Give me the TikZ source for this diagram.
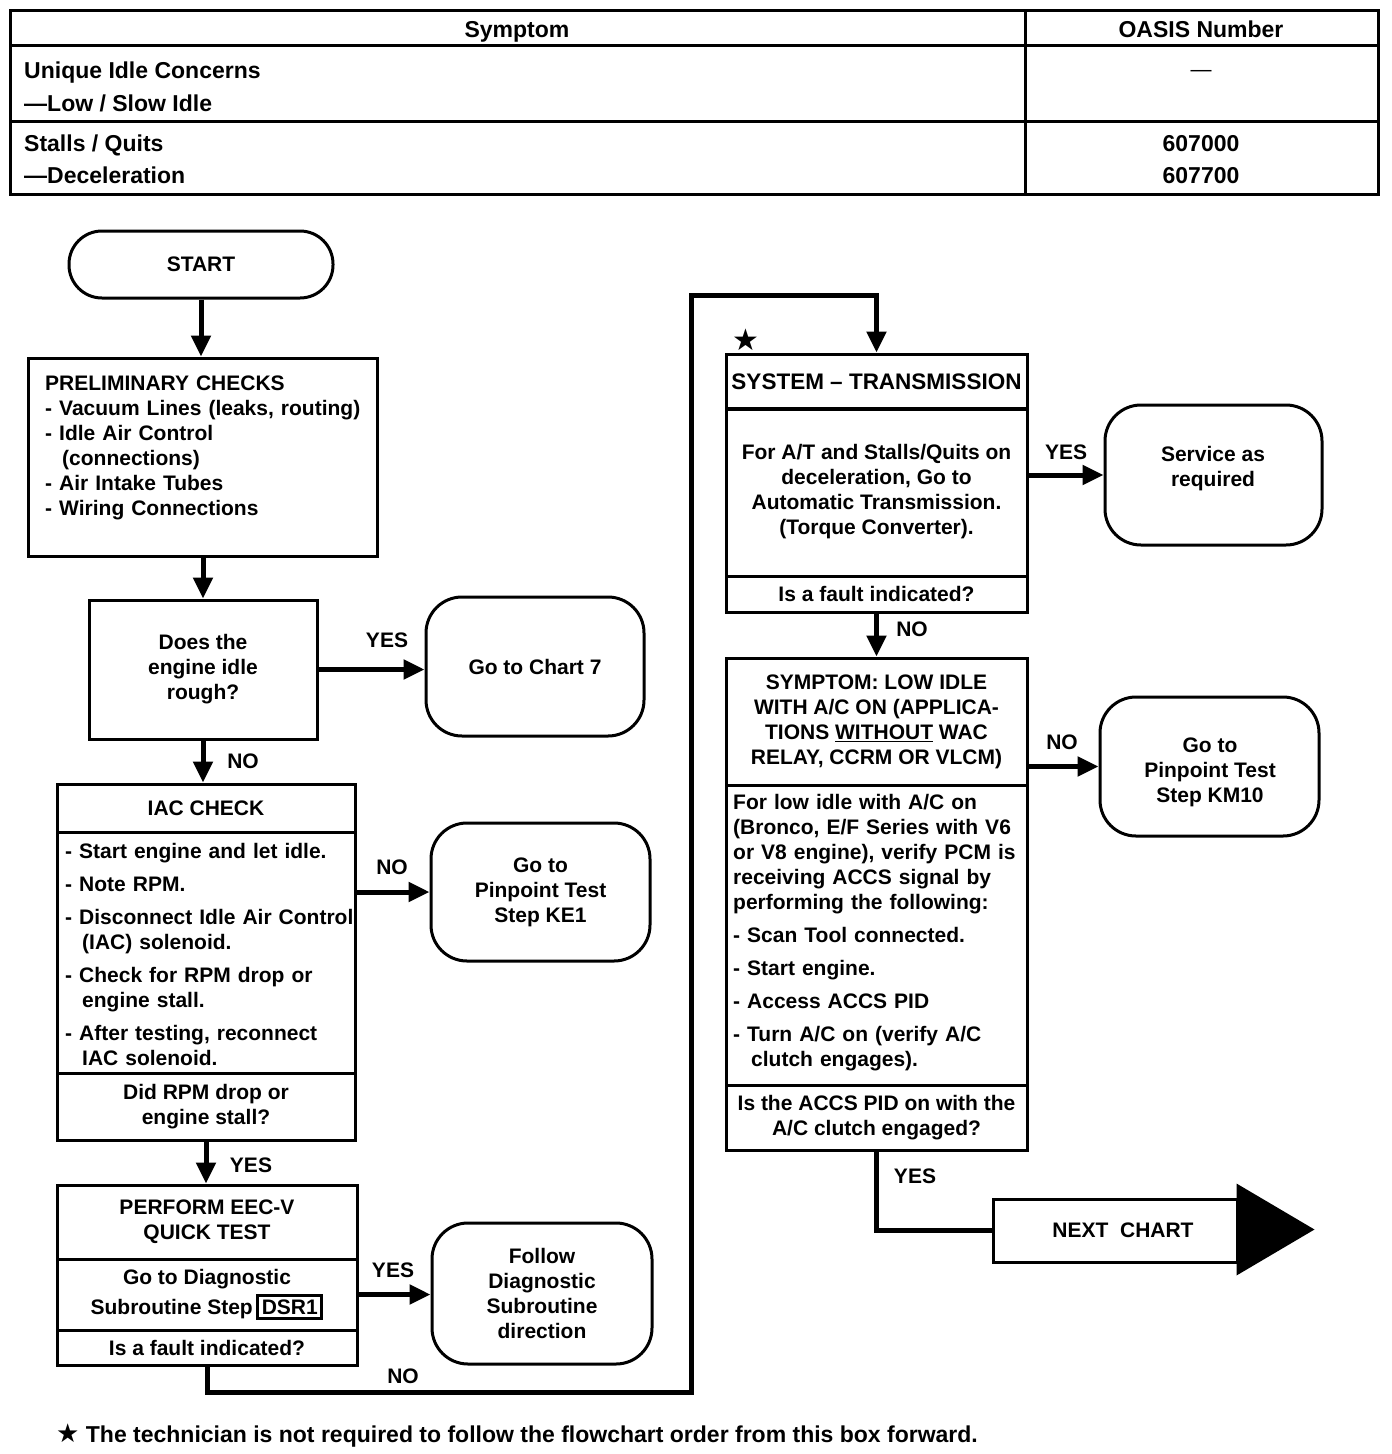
\documentclass[tikz,border=0pt]{standalone}
\usepackage{fontspec}
\setmainfont{Liberation Sans}
\newfontfamily\symfont{DejaVu Sans}
\usetikzlibrary{arrows.meta,calc}
\newcommand\fzn{\fontsize{21}{25}\selectfont\bfseries}
\newcommand\fzt{\fontsize{23}{33}\selectfont\bfseries}
\newcommand\dsr[1]{{\setlength\fboxsep{2.5pt}\setlength\fboxrule{3pt}\fbox{#1}}}
\begin{document}
\begin{tikzpicture}[x=1pt,y=-1pt,
  box/.style={draw,line width=3pt,inner sep=0pt,align=center,font=\fzn},
  rbox/.style={box,rounded corners=36pt},
  conn/.style={line width=5pt,-{Triangle[length=21pt,width=19pt]}},
  lbl/.style={inner sep=0pt,font=\fzn},
  lst/.style={inner sep=0pt,anchor=north west,align=left,text width=330pt,font=\fzn},
  tt/.style={inner sep=0pt,font=\fzt}]
\useasboundingbox[fill=white] (0,0) rectangle (1392,1454);
% ---- table ----
\draw[line width=3pt] (10,10) rectangle (1378,194);
\draw[line width=3pt] (10,45) -- (1378,45) (10,121) -- (1378,121) (1025,10) -- (1025,194);
\node[tt,anchor=base] (hsym) at (517,37) {Symptom};
\node[tt,anchor=base] (hoasis) at (1201,37) {OASIS Number};
\node[tt,anchor=base west] (t1) at (24,78) {Unique Idle Concerns};
\node[tt,anchor=base west] (t2) at (24,111) {—Low / Slow Idle};
\node[tt,anchor=base west] (t3) at (24,151) {Stalls / Quits};
\node[tt,anchor=base west] (t4) at (24,183) {—Deceleration};
\node[inner sep=0pt,anchor=base,font=\fontsize{21}{25}\selectfont] (t5) at (1201,76) {—};
\node[tt,anchor=base] (t6) at (1201,151) {607000};
\node[tt,anchor=base] (t7) at (1201,183) {607700};
% ---- left column ----
\node[rbox,rounded corners=33pt,minimum width=264pt,minimum height=67pt] (start) at (201,264.5) {START};
\node[box,minimum width=349pt,minimum height=198pt] (prelim) at (202.5,457) {};
\node[lst] (prelimtxt) at (45,373) {\strut PRELIMINARY CHECKS\\- Vacuum Lines (leaks, routing)\\- Idle Air Control\\\hspace*{17pt}(connections)\\- Air Intake Tubes\\- Wiring Connections};
\node[box,minimum width=228pt,minimum height=139pt] (q1) at (203,669.5) {Does the\\engine idle\\rough?};
\node[rbox,minimum width=218pt,minimum height=139pt] (chart7) at (535,666.5) {Go to Chart 7};
\node[box,minimum width=298pt,minimum height=48pt] (iachead) at (206,808) {IAC CHECK};
\node[box,minimum width=298pt,minimum height=241pt] (iaclist) at (206,952.5) {};
\node[box,minimum width=298pt,minimum height=67pt] (iacq) at (206,1106.5) {Did RPM drop or\\engine stall?};
\node[lst] (iactxt) at (65,841) {\strut - Start engine and let idle.\\[8pt]- Note RPM.\\[8pt]- Disconnect Idle Air Control\\\hspace*{17pt}(IAC) solenoid.\\[8pt]- Check for RPM drop or\\\hspace*{17pt}engine stall.\\[8pt]- After testing, reconnect\\\hspace*{17pt}IAC solenoid.};
\node[rbox,minimum width=219pt,minimum height=138pt] (ke1) at (540.5,892) {Go to\\Pinpoint Test\\Step KE1};
\node[box,minimum width=300pt,minimum height=74pt] (perfhead) at (207,1222) {PERFORM EEC-V\\QUICK TEST};
\node[box,minimum width=300pt,minimum height=71pt] (perfmid) at (207,1294.5) {Go to Diagnostic\\[5pt]Subroutine Step\,\dsr{DSR1}};
\node[box,minimum width=300pt,minimum height=35pt] (perfq) at (207,1347.5) {Is a fault indicated?};
\node[rbox,minimum width=220pt,minimum height=141pt] (follow) at (542,1293.5) {Follow\\Diagnostic\\Subroutine\\direction};
% ---- right column ----
\node[lbl,font=\symfont\fontsize{30}{30}\selectfont] (star) at (746,340) {★};
\node[box,minimum width=301pt,minimum height=55pt,font=\fontsize{22.5}{25}\selectfont\bfseries] (syshead) at (876.5,381.5) {SYSTEM – TRANSMISSION};
\node[box,minimum width=301pt,minimum height=168pt] (sysmid) at (876.5,492) {For A/T and Stalls/Quits on\\deceleration, Go to\\Automatic Transmission.\\(Torque Converter).};
\node[box,minimum width=301pt,minimum height=36pt] (sysq) at (876.5,594) {Is a fault indicated?};
\node[rbox,minimum width=217pt,minimum height=140pt] (service) at (1213.5,475) {};
\node[lbl,align=center] (servicetxt) at (1213,468.5) {Service as\\required};
\node[box,minimum width=301pt,minimum height=127pt] (symhead) at (876.5,721.5) {SYMPTOM: LOW IDLE\\WITH A/C ON (APPLICA-\\TIONS \underline{WITHOUT} WAC\\RELAY, CCRM OR VLCM)};
\node[box,minimum width=301pt,minimum height=300pt] (symbody) at (876.5,935) {};
\node[lst,text width=292pt] (symtxt) at (733,792) {\strut For low idle with A/C on\\(Bronco, E/F Series with V6\\or V8 engine), verify PCM is\\receiving ACCS signal by\\performing the following:\\[8pt]- Scan Tool connected.\\[8pt]- Start engine.\\[8pt]- Access ACCS PID\\[8pt]- Turn A/C on (verify A/C\\\hspace*{18pt}clutch engages).};
\node[box,minimum width=301pt,minimum height=65pt] (symq) at (876.5,1117.5) {Is the ACCS PID on with the\\A/C clutch engaged?};
\node[rbox,minimum width=219pt,minimum height=139pt] (km10) at (1209.5,766.5) {};
\node[lbl,align=center] (km10txt) at (1210,772.5) {Go to\\Pinpoint Test\\Step KM10};
\node[box,minimum width=244pt,minimum height=63pt] (next) at (1115,1230.5) {\hspace*{16pt}NEXT\ \ CHART};
\fill ($(next.east)+(-2,-47)$) -- ($(next.east)+(-2,45)$) -- ($(next.east)+(76,-1)$) -- cycle;
% ---- connectors ----
\draw[conn] (start.south) -- (start.south |- prelim.north);
\draw[conn] (q1.north |- prelim.south) -- (q1.north);
\draw[conn] (q1.east) -- (q1.east -| chart7.west);
\draw[conn] (q1.south) -- (q1.south |- iachead.north);
\draw[conn] (ke1.west -| iaclist.east) -- (ke1.west);
\draw[conn] (iacq.south) -- (iacq.south |- perfhead.north);
\draw[conn] (perfmid.east) -- (perfmid.east -| follow.west);
\coordinate (c1) at (691,1392);
\coordinate (c2) at (691,295);
\draw[conn] (perfq.south) |- (c1) -- (c2) -| (syshead.north);
\draw[conn] (service.west -| sysmid.east) -- (service.west);
\draw[conn] (sysq.south) -- (sysq.south |- symhead.north);
\draw[conn] (km10.west -| symhead.east) -- (km10.west);
\draw[line width=5pt] (symq.south) |- (next.west);
% ---- labels ----
\node[lbl] (l1) at (387,640) {YES};
\node[lbl] (l2) at (243,761) {NO};
\node[lbl] (l3) at (392,867) {NO};
\node[lbl] (l4) at (251,1165) {YES};
\node[lbl] (l5) at (393,1270) {YES};
\node[lbl] (l6) at (403,1376) {NO};
\node[lbl] (l7) at (1066,452) {YES};
\node[lbl] (l8) at (912,629) {NO};
\node[lbl] (l9) at (1062,742) {NO};
\node[lbl] (l10) at (915,1176) {YES};
% ---- footnote ----
\node[inner sep=0pt,anchor=base west,font=\fontsize{23}{26}\selectfont\bfseries] (foot) at (56,1442) {{\symfont\fontsize{26}{26}\selectfont ★}\ The technician is not required to follow the flowchart order from this box forward.};
\end{tikzpicture}
\end{document}
